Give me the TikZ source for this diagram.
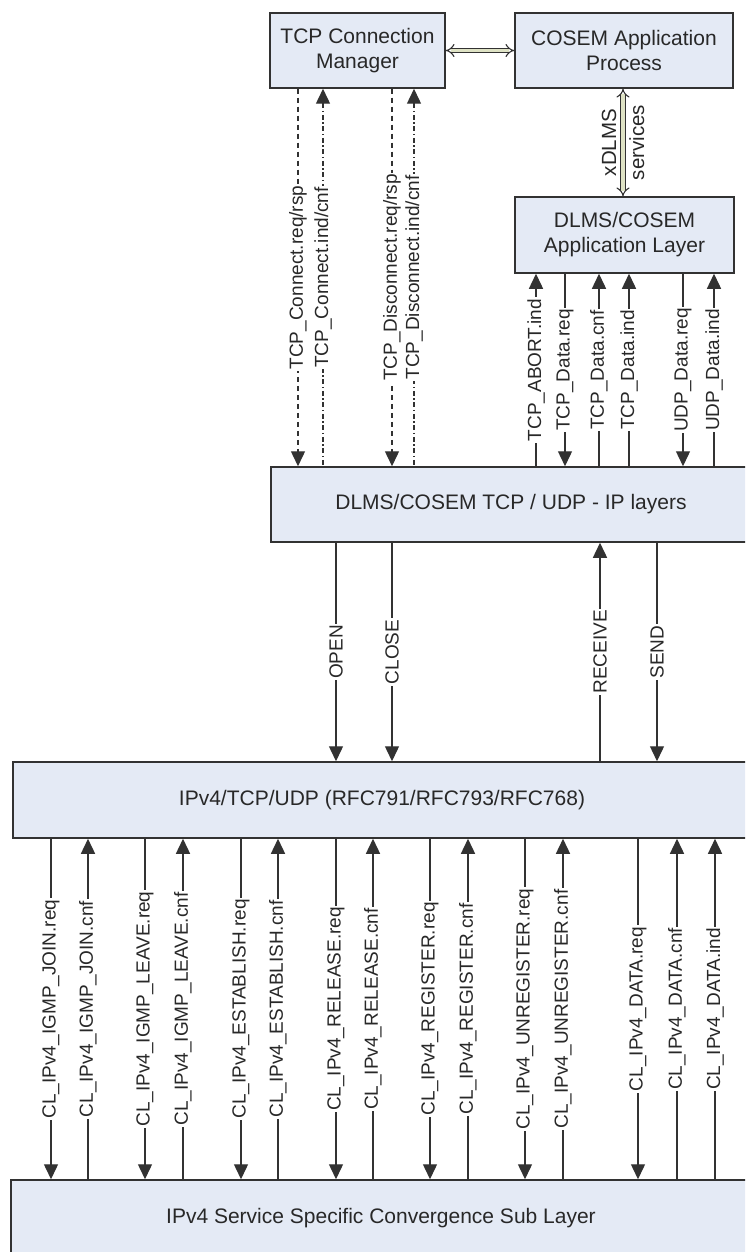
\documentclass[tikz,border=0pt]{standalone}
\usepackage{fontspec}
\setmainfont{Liberation Sans}
\usepackage{tikz}
\usetikzlibrary{arrows.meta, positioning}
\definecolor{caja}{RGB}{228, 234, 245}
\definecolor{borde}{RGB}{50, 50, 50}
\definecolor{texto}{RGB}{40, 40, 40}
\definecolor{oliva}{RGB}{222, 226, 196}
\tikzset{
    layer/.style={draw=borde, fill=caja, line width=1.5pt, text=texto, align=center, inner sep=0pt, font=\fontsize{21}{25}\selectfont},
    conn/.style={draw=borde, line width=1.4pt},
    dwn/.style={-{Triangle[width=14pt, length=15pt]}},
    upw/.style={{Triangle[width=14pt, length=15pt]}-},
    dsh/.style={dash pattern=on 5.5pt off 3.5pt},
    dshdot/.style={dash pattern=on 5pt off 2.5pt on 1.5pt off 2.5pt},
    prim/.style={midway, rotate=90, fill=white, text=texto, inner xsep=1.5pt, inner ysep=0pt, font=\fontsize{19}{22}\selectfont},
    svc/.style={draw=borde, line width=1.1pt, double=oliva, double distance=3.4pt, {Implies}-{Implies}},
}
\begin{document}
\begin{tikzpicture}[x=1pt, y=-1pt]
    \useasboundingbox (0,0) rectangle (745,1252);
    \clip (0,0) rectangle (745,1252);

    \node[layer, minimum width=175pt, minimum height=75pt] (tcm) at (357.5,50.5) {TCP Connection\\Manager};
    \node[layer, minimum width=218pt, minimum height=75pt] (cap) at (624,50.5) {COSEM Application\\Process};
    \node[layer, minimum width=219pt, minimum height=76pt] (al) at (624.5,235) {DLMS/COSEM\\Application Layer};
    \node[layer, minimum width=480pt, minimum height=75pt] (tcpip) at (511,504.5) {DLMS/COSEM TCP / UDP - IP layers};
    \node[layer, minimum width=738pt, minimum height=76pt] (ipv4) at (382,800) {IPv4/TCP/UDP (RFC791/RFC793/RFC768)};
    \node[layer, minimum width=740pt, minimum height=76pt] (sscs) at (381,1218) {IPv4 Service Specific Convergence Sub Layer};

    \draw[svc] (tcm) -- (cap);
    \draw[svc] (cap.south -| 623,0) -- (al.north -| 623,0)
        node[midway, rotate=90, align=center, text=texto, font=\fontsize{20.5}{28}\selectfont] {xDLMS\\services};

    \draw[conn, dsh, dwn] (tcm.south -| 298,0) -- (tcpip.north -| 298,0) node[prim] {TCP\_Connect.req/rsp};
    \draw[conn, dshdot, upw] (tcm.south -| 323,0) -- (tcpip.north -| 323,0) node[prim] {TCP\_Connect.ind/cnf};
    \draw[conn, dsh, dwn] (tcm.south -| 392,0) -- (tcpip.north -| 392,0) node[prim] {TCP\_Disconnect.req/rsp};
    \draw[conn, dshdot, upw] (tcm.south -| 414,0) -- (tcpip.north -| 414,0) node[prim] {TCP\_Disconnect.ind/cnf};

    \draw[conn, upw] (al.south -| 536,0) -- (tcpip.north -| 536,0) node[prim] {TCP\_ABORT.ind};
    \draw[conn, dwn] (al.south -| 565,0) -- (tcpip.north -| 565,0) node[prim] {TCP\_Data.req};
    \draw[conn, upw] (al.south -| 599,0) -- (tcpip.north -| 599,0) node[prim] {TCP\_Data.cnf};
    \draw[conn, upw] (al.south -| 629,0) -- (tcpip.north -| 629,0) node[prim] {TCP\_Data.ind};
    \draw[conn, dwn] (al.south -| 683,0) -- (tcpip.north -| 683,0) node[prim] {UDP\_Data.req};
    \draw[conn, upw] (al.south -| 714,0) -- (tcpip.north -| 714,0) node[prim] {UDP\_Data.ind};

    \draw[conn, dwn] (tcpip.south -| 336,0) -- (ipv4.north -| 336,0) node[prim] {OPEN};
    \draw[conn, dwn] (tcpip.south -| 392,0) -- (ipv4.north -| 392,0) node[prim] {CLOSE};
    \draw[conn, upw] (tcpip.south -| 600,0) -- (ipv4.north -| 600,0) node[prim] {RECEIVE};
    \draw[conn, dwn] (tcpip.south -| 657,0) -- (ipv4.north -| 657,0) node[prim] {SEND};

    \draw[conn, dwn] (ipv4.south -| 51,0) -- (sscs.north -| 51,0) node[prim] {CL\_IPv4\_IGMP\_JOIN.req};
    \draw[conn, upw] (ipv4.south -| 88,0) -- (sscs.north -| 88,0) node[prim] {CL\_IPv4\_IGMP\_JOIN.cnf};
    \draw[conn, dwn] (ipv4.south -| 145,0) -- (sscs.north -| 145,0) node[prim] {CL\_IPv4\_IGMP\_LEAVE.req};
    \draw[conn, upw] (ipv4.south -| 183,0) -- (sscs.north -| 183,0) node[prim] {CL\_IPv4\_IGMP\_LEAVE.cnf};
    \draw[conn, dwn] (ipv4.south -| 241,0) -- (sscs.north -| 241,0) node[prim] {CL\_IPv4\_ESTABLISH.req};
    \draw[conn, upw] (ipv4.south -| 278,0) -- (sscs.north -| 278,0) node[prim] {CL\_IPv4\_ESTABLISH.cnf};
    \draw[conn, dwn] (ipv4.south -| 336,0) -- (sscs.north -| 336,0) node[prim] {CL\_IPv4\_RELEASE.req};
    \draw[conn, upw] (ipv4.south -| 373,0) -- (sscs.north -| 373,0) node[prim] {CL\_IPv4\_RELEASE.cnf};
    \draw[conn, dwn] (ipv4.south -| 430,0) -- (sscs.north -| 430,0) node[prim] {CL\_IPv4\_REGISTER.req};
    \draw[conn, upw] (ipv4.south -| 468,0) -- (sscs.north -| 468,0) node[prim] {CL\_IPv4\_REGISTER.cnf};
    \draw[conn, dwn] (ipv4.south -| 525,0) -- (sscs.north -| 525,0) node[prim] {CL\_IPv4\_UNREGISTER.req};
    \draw[conn, upw] (ipv4.south -| 563,0) -- (sscs.north -| 563,0) node[prim] {CL\_IPv4\_UNREGISTER.cnf};
    \draw[conn, dwn] (ipv4.south -| 638,0) -- (sscs.north -| 638,0) node[prim] {CL\_IPv4\_DATA.req};
    \draw[conn, upw] (ipv4.south -| 677,0) -- (sscs.north -| 677,0) node[prim] {CL\_IPv4\_DATA.cnf};
    \draw[conn, upw] (ipv4.south -| 715,0) -- (sscs.north -| 715,0) node[prim] {CL\_IPv4\_DATA.ind};
\end{tikzpicture}
\end{document}
